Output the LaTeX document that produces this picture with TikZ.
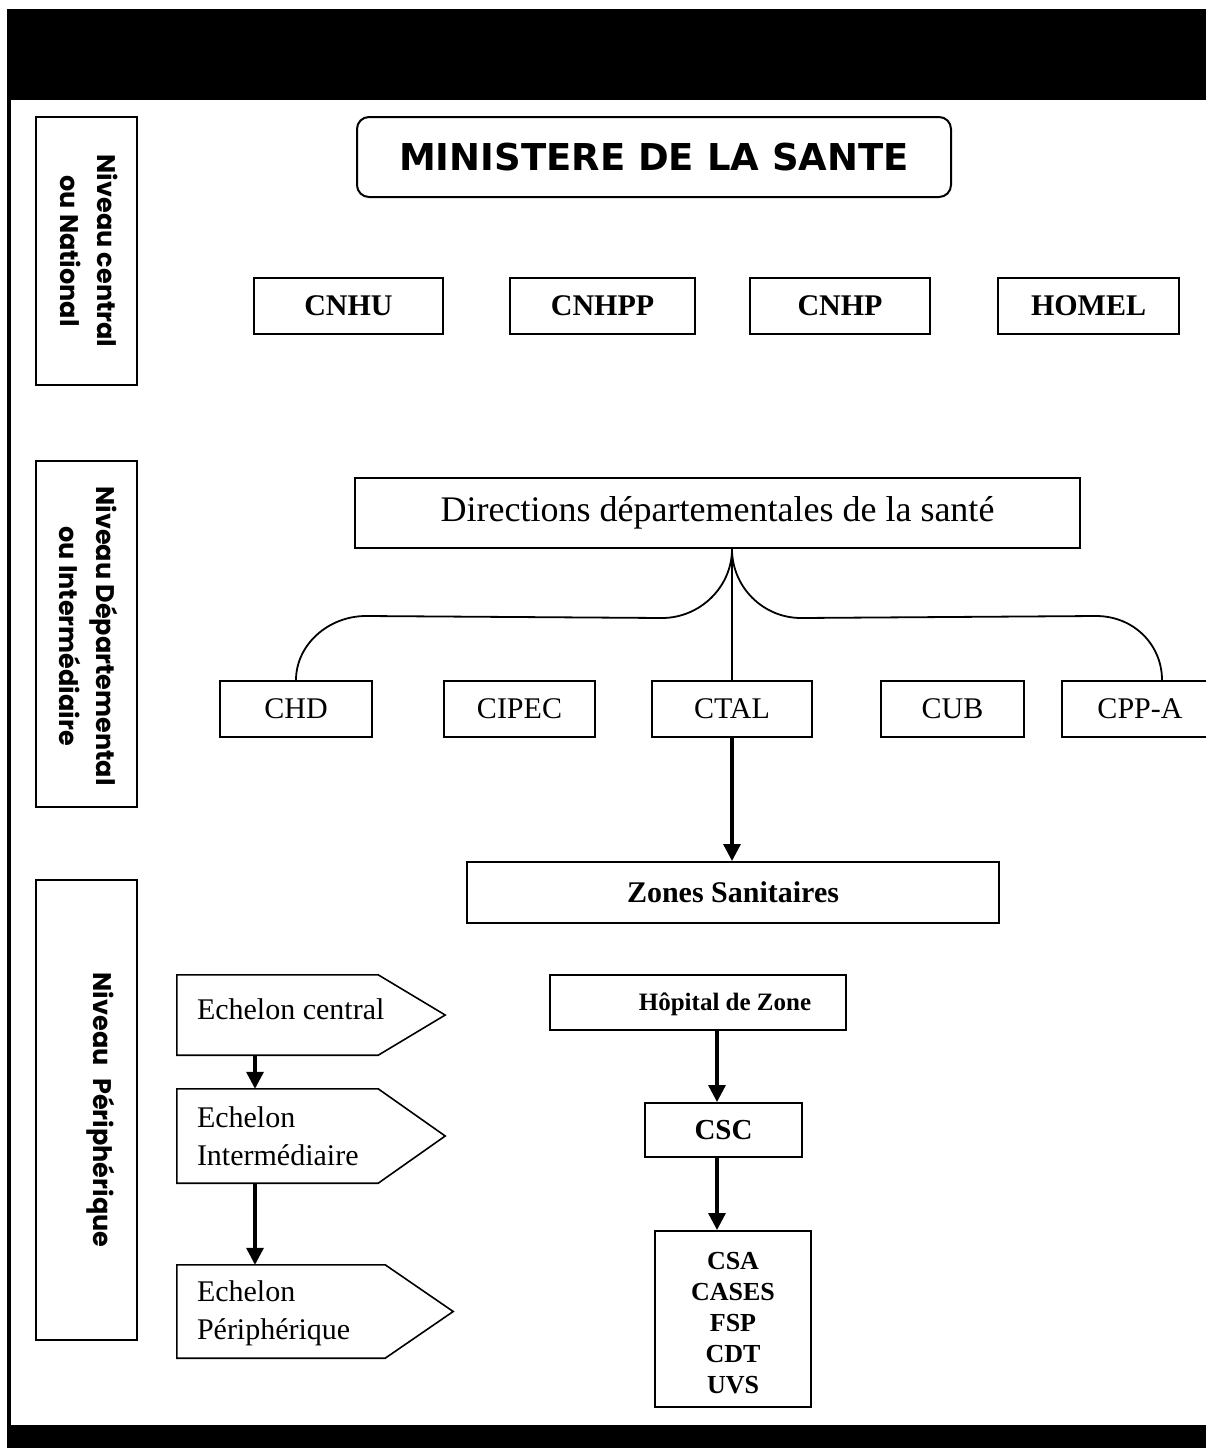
\documentclass[tikz,border=0pt]{standalone}
\usepackage{fontspec}
\setmainfont{Liberation Serif}
\newfontfamily\minfont{DejaVu Sans}
\newfontfamily\lvlfont{Poppins}
\usetikzlibrary{arrows.meta,calc}
\newcommand\myfs[2]{\fontsize{#1}{#2}\selectfont}
\begin{document}
\begin{tikzpicture}[x=1pt,y=-1pt,
  box/.style={draw, line width=2pt, inner sep=0pt},
  lvltext/.style={rotate=-90, align=center, font=\lvlfont\bfseries\myfs{25.5}{37}},
  natbox/.style={box, minimum height=56pt, font=\bfseries\myfs{30}{36}},
  depbox/.style={box, minimum height=56pt, font=\myfs{30}{36}},
  tree/.style={line width=1.8pt},
  arr/.style={line width=3.3pt, -{Triangle[length=17pt,width=17pt]}},
  ech/.style={draw=none, inner sep=0pt},
  echtext/.style={anchor=west, align=left, inner sep=0pt, font=\myfs{30}{38}}
]
\useasboundingbox (0,0) rectangle (1206,1448);
\clip (0,0) rectangle (1206,1448);
% frame
\fill (7,9) rectangle (1206,100);
\fill (7,1425) rectangle (1206,1448);
\fill (7,100) rectangle (10.5,1425);

% level boxes
\node[box, minimum width=101pt, minimum height=268pt] (l1) at (86.5,251) {};
\node[lvltext] (l1t) at (89,251) {Niveau central\\ou National};
\node[box, minimum width=101pt, minimum height=346pt] (l2) at (86.5,634) {};
\node[lvltext] (l2t) at (89,636) {Niveau Départemental\\ou Intermédiaire};
\node[box, minimum width=101pt, minimum height=460pt] (l3) at (86.5,1110) {};
\node[lvltext] (l3t) at (101,1110) {Niveau\hspace{0.5em}Périphérique};

% ministere
\node[box, rounded corners=12pt, minimum width=594pt, minimum height=80pt,
      font=\minfont\bfseries\myfs{37}{44}] (min) at (654,157) {MINISTERE DE LA SANTE};

% national
\node[natbox, minimum width=189pt] (cnhu) at (348.5,306) {CNHU};
\node[natbox, minimum width=185pt] (cnhpp) at (602.5,306) {CNHPP};
\node[natbox, minimum width=180pt] (cnhp) at (840,306) {CNHP};
\node[natbox, minimum width=181pt] (homel) at (1088.5,306) {HOMEL};

% directions
\node[box, minimum width=725pt, minimum height=70pt, font=\myfs{36}{42}] (dir) at (717.5,513) {Directions départementales de la santé};

% departmental
\node[depbox, minimum width=152pt] (chd) at (296,709) {CHD};
\node[depbox, minimum width=151pt] (cipec) at (519.5,709) {CIPEC};
\node[depbox, minimum width=160pt] (ctal) at (732,709) {CTAL};
\node[depbox, minimum width=143pt] (cub) at (952.5,709) {CUB};
\node[depbox, minimum width=156pt] (cppa) at (1140,709) {CPP-A};

\coordinate (j) at (ctal.north |- dir.south);
\coordinate (cppatop) at ($(cppa.north west)+(101,0)$);
\draw[tree] (j) -- (ctal.north);
\draw[tree] (j) .. controls +(0,38) and +(38,0) .. ($(j)+(-70,69)$)
  -- ($(chd.north)+(70,-64)$) .. controls +(-38,0) and +(0,-35) .. (chd.north);
\draw[tree] (j) .. controls +(0,38) and +(-38,0) .. ($(j)+(69,69)$)
  -- ($(cppatop)+(-66,-64)$) .. controls +(38,0) and +(0,-35) .. (cppatop);

% zones
\node[box, minimum width=532pt, minimum height=61pt, font=\bfseries\myfs{30}{36}] (zones) at (733,892.5) {Zones Sanitaires};
\draw[arr] (ctal.south) -- (zones.north -| ctal.south);

% echelons
\node[ech, minimum width=201pt, minimum height=80pt] (e1) at (277.5,1015) {};
\node[ech, minimum width=201pt, minimum height=94pt] (e2) at (277.5,1136) {};
\node[ech, minimum width=208pt, minimum height=93pt] (e3) at (281,1311.5) {};
\draw[line width=1.6pt] (e1.north west) -- (e1.north east) -- ($(e1.east)+(67,0)$) -- (e1.south east) -- (e1.south west) -- cycle;
\draw[line width=1.6pt] (e2.north west) -- (e2.north east) -- ($(e2.east)+(67,0)$) -- (e2.south east) -- (e2.south west) -- cycle;
\draw[line width=1.6pt] (e3.north west) -- (e3.north east) -- ($(e3.east)+(68,0)$) -- (e3.south east) -- (e3.south west) -- cycle;
\node[echtext] (e1t) at ($(e1.west)+(20,-6)$) {Echelon central};
\node[echtext] (e2t) at ($(e2.west)+(20,0)$) {Echelon\\Intermédiaire};
\node[echtext] (e3t) at ($(e3.west)+(20,2)$) {Echelon\\Périphérique};
\coordinate (ex) at (255,0);
\draw[arr] (e1.south -| ex) -- (e2.north -| ex);
\draw[arr] (e2.south -| ex) -- (e3.north -| ex);

% zone structure
\node[box, minimum width=296pt, minimum height=55pt] (hop) at (698,1002.5) {};
\node[inner sep=0pt, font=\bfseries\myfs{25}{30}] (hopt) at (725,1004) {Hôpital de Zone};
\node[box, minimum width=157pt, minimum height=54pt, font=\bfseries\myfs{29}{34}] (csc) at (723.5,1130) {CSC};
\node[box, minimum width=156pt, minimum height=176pt, align=center, font=\bfseries\myfs{26}{31}] (list) at (733,1319) {};
\node[inner sep=0pt, align=center, font=\bfseries\myfs{26}{31}] (listt) at (733,1323) {CSA\\CASES\\FSP\\CDT\\UVS};
\coordinate (ax) at (717,0);
\draw[arr] (hop.south -| ax) -- (csc.north -| ax);
\draw[arr] (csc.south -| ax) -- (list.north -| ax);
\end{tikzpicture}
\end{document}
